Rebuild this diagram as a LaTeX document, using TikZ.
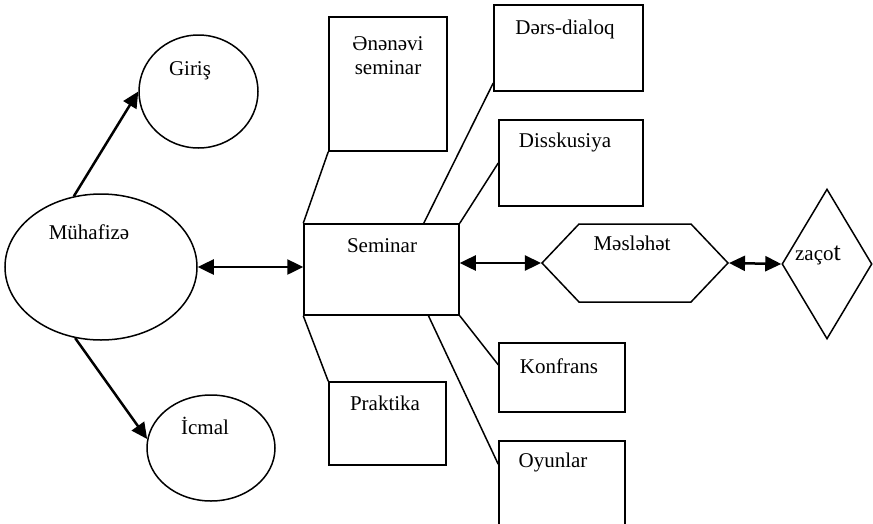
\documentclass[tikz,border=0pt]{standalone}
\usepackage{fontspec}
\setmainfont{Liberation Serif}
\usetikzlibrary{arrows.meta,positioning,calc,shapes.geometric,shapes.symbols}
\tikzset{
  bx/.style={rectangle,draw,line width=1.5pt,inner sep=0pt},
  ov/.style={ellipse,draw,line width=1.5pt,inner sep=0pt},
  txt/.style={inner sep=0pt,text height=1.5ex,text depth=.25ex,align=center},
}

\begin{document}
\begin{tikzpicture}[x=1pt,y=-1pt,font=\fontsize{21}{24}\selectfont,
  ar/.style={-{Triangle[length=16pt,width=15pt]},line width=2.5pt},
  dar/.style={{Triangle[length=16pt,width=15pt]}-{Triangle[length=16pt,width=15pt]},line width=2.5pt},
  ln/.style={line width=1.5pt}]
  \clip (0,0) rectangle (873,523);
  % left side
  \node[ov,minimum width=192pt,minimum height=146pt] (muh) at (101,267) {};
  \node[ov,minimum width=119pt,minimum height=113pt] (gir) at (198.5,91.5) {};
  \node[ov,minimum width=128pt,minimum height=106pt] (icm) at (211,448) {};
  \node[txt] (muhT) at (89,237) {Mühafizə};
  \node[txt] (girT) at (190,73) {Giriş};
  \node[txt] (icmT) at (205,432) {İcmal};
  \draw[ar] (muh.111) -- (gir.west);
  \draw[ar] (muh.250) -- (icm.172);
  % seminar and its kinds
  \node[bx,minimum width=155pt,minimum height=91pt] (sem) at (381.5,269.5) {};
  \node[bx,minimum width=118pt,minimum height=134pt] (ene) at (388,84) {};
  \node[bx,minimum width=149pt,minimum height=86pt] (ders) at (568.5,48) {};
  \node[bx,minimum width=144pt,minimum height=86pt] (dis) at (571,163) {};
  \node[bx,minimum width=117pt,minimum height=83pt] (prak) at (387.5,423.5) {};
  \node[bx,minimum width=126pt,minimum height=69pt] (konf) at (562,377.5) {};
  \node[bx,minimum width=126pt,minimum height=118pt] (oyun) at (562,500) {};
  \node[txt] (semT) at (382,250) {Seminar};
  \node[inner sep=0pt,align=center] (eneT) at (388,56) {Ənənəvi\\seminar};
  \node[txt] (dersT) at (565,32) {Dərs-dialoq};
  \node[txt] (disT) at (565,145) {Disskusiya};
  \node[txt] (prakT) at (385,408) {Praktika};
  \node[txt] (konfT) at (559,371) {Konfrans};
  \node[txt] (oyunT) at (553,465) {Oyunlar};
  \draw[dar] (muh.east) -- (muh.east -| sem.west);
  \draw[ln] (sem.north west) -- (ene.south west);
  \draw[ln] ($(sem.north west)!0.77!(sem.north east)$) -- ($(ders.south west)!0.1!(ders.north west)$);
  \draw[ln] (sem.north east) -- (dis.west);
  \draw[ln] (sem.south west) -- (prak.north west);
  \draw[ln] (sem.south east) -- ($(konf.south west)!0.68!(konf.north west)$);
  \draw[ln] ($(sem.south west)!0.8!(sem.south east)$) -- ($(oyun.north west)+(0,24)$);
  % right side
  \node[signal,signal to=east and west,signal pointer angle=93,draw,line width=1.5pt,
    inner sep=0pt,minimum width=186pt,minimum height=78pt] (mas) at (635,263) {};
  \node[diamond,draw,line width=1.5pt,inner sep=0pt,minimum width=90pt,minimum height=150pt] (zac) at (827,264) {};
  \node[txt] (masT) at (632,248) {Məsləhət};
  \node[txt] (zacT) at (818,258) {zaço{\fontsize{26}{28}\selectfont t}};
  \draw[dar] (sem.east |- mas.west) -- (mas.west);
  \draw[dar] (mas.east) -- (zac.west);
\end{tikzpicture}
\end{document}
